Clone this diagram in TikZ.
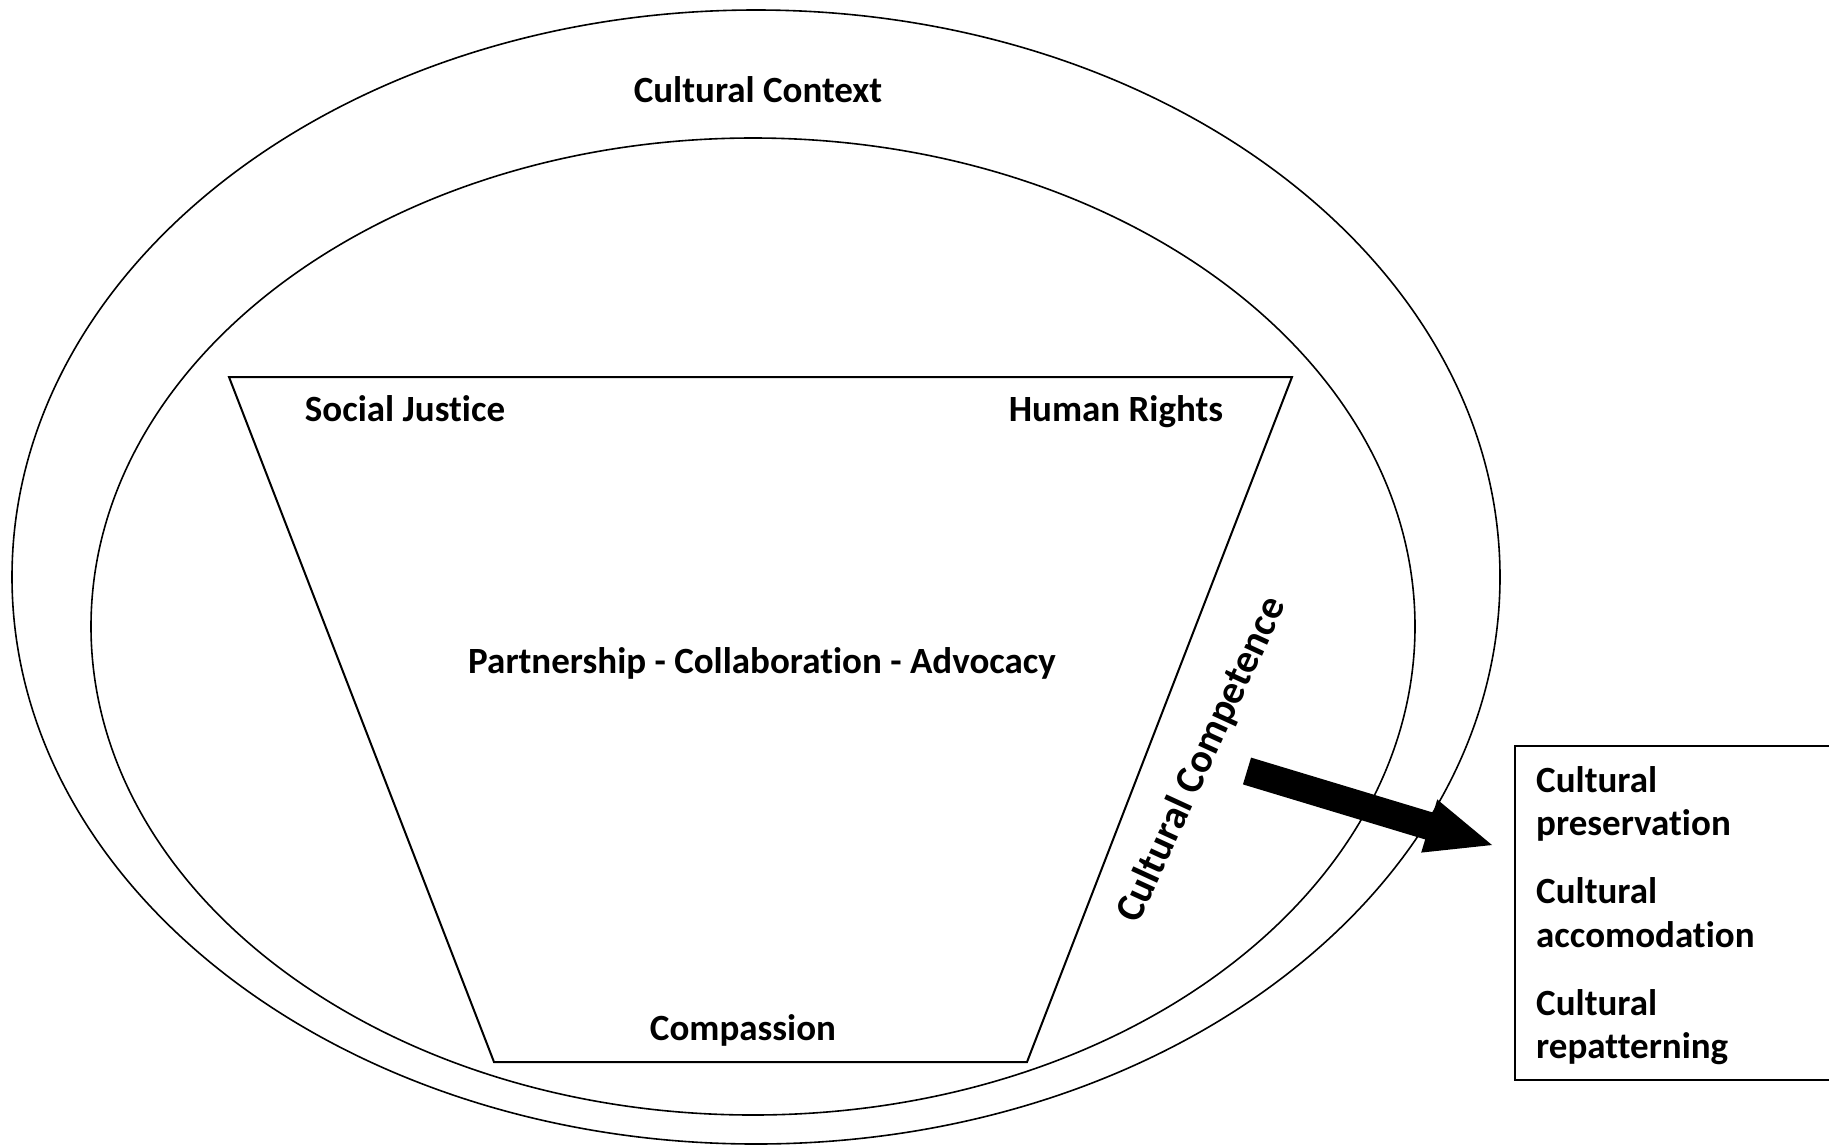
\documentclass[tikz,border=0pt]{standalone}
\usepackage{fontspec}
\setmainfont[Ligatures=NoCommon]{Carlito}
\usetikzlibrary{calc}
\tikzset{
  ring/.style={draw=black, line width=1.6pt},
  lbl/.style={font=\fontsize{37}{44}\selectfont\bfseries, inner sep=0pt, anchor=base},
  boxlbl/.style={font=\fontsize{37}{44}\selectfont\bfseries, inner sep=0pt, anchor=base west},
  comp/.style={font=\fontsize{40.5}{48}\selectfont\bfseries, inner sep=0pt},
}
\begin{document}
\begin{tikzpicture}[x=1pt,y=-1pt]
\useasboundingbox (0,0) rectangle (1829,1144);
% ellipses
\draw[ring] (756,577) ellipse [x radius=744pt, y radius=567pt];
\draw[ring] (753,626.5) ellipse [x radius=662pt, y radius=488.5pt];
% trapezoid
\coordinate (tl) at (229,377);
\coordinate (tr) at (1292,377);
\coordinate (br) at (1027,1062);
\coordinate (bl) at (494,1062);
\draw[line width=2pt, line join=miter] (tl) -- (tr) -- (br) -- (bl) -- cycle;
% labels
\node[lbl] (ctx) at (758,102) {Cultural Context};
\node[lbl] (sj) at (405,421) {Social Justice};
\node[lbl] (hr) at (1116,421) {Human Rights};
\node[lbl] (pca) at (762,673) {Partnership - Collaboration - Advocacy};
\node[lbl] (cmp) at (743,1040) {Compassion};
\node[comp, rotate=65.3] (cc) at (1202,760) {Cultural Competence};
% box
\draw[line width=2.5pt] (1515,746) rectangle (1860,1080);
\node[boxlbl] (b1) at (1536,792) {Cultural};
\node[boxlbl] (b2) at (1536,835) {preservation};
\node[boxlbl] (b3) at (1536,903) {Cultural};
\node[boxlbl] (b4) at (1536,947) {accomodation};
\node[boxlbl] (b5) at (1536,1015) {Cultural};
\node[boxlbl] (b6) at (1536,1058) {repatterning};
% arrow
\coordinate (atail) at (1247,771);
\coordinate (atip) at (1492,845);
\coordinate (ahead) at ($(atail)!0.7437!(atip)$);
\fill[black] ($(atail)!14pt!90:(atip)$) -- ($(ahead)!14pt!90:(atip)$) -- ($(ahead)!27.75pt!90:(atip)$) -- (atip) -- ($(ahead)!27.75pt!-90:(atip)$) -- ($(ahead)!14pt!-90:(atip)$) -- ($(atail)!14pt!-90:(atip)$) -- cycle;
\end{tikzpicture}
\end{document}
